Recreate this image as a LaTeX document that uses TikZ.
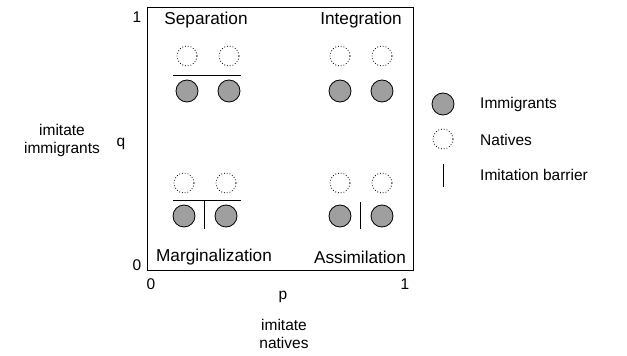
\documentclass[tikz,border=0pt]{standalone}
\usepackage{fontspec}
\setmainfont{Liberation Sans}
\begin{document}
\begin{tikzpicture}[x=1pt,y=-1pt,
  txt/.style={inner sep=0pt,font=\fontsize{15.5}{18}\selectfont},
  qtxt/.style={inner sep=0pt,font=\fontsize{17.2}{20}\selectfont},
  imm/.style={circle,draw=black,fill=gray!75,line width=0.8pt,minimum size=22pt,inner sep=0pt},
  nat/.style={circle,draw=black,dotted,line width=0.8pt,minimum size=20pt,inner sep=0pt},
  barrier/.style={line width=0.8pt}]
\useasboundingbox (0,0) rectangle (627,356);
\node[draw,line width=0.8pt,minimum width=266pt,minimum height=263pt,inner sep=0pt] (box) at (280,138.5) {};
% axis labels
\node[txt] (q1) at (137,17) {1};
\node[txt] (q0) at (137,265) {0};
\node[txt] (p0) at (151,284) {0};
\node[txt] (p1) at (405,284) {1};
\node[txt] (p) at (283,297) {p};
\node[txt,align=center] (pl) at (284,334) {imitate\\natives};
\node[txt] (q) at (121,144) {q};
\node[txt,align=center] (ql) at (62,140) {imitate\\immigrants};
% quadrant labels
\node[qtxt] (sep) at (206,20) {Separation};
\node[qtxt] (int) at (361,20) {Integration};
\node[qtxt] (mar) at (214,257) {Marginalization};
\node[qtxt] (ass) at (360,257) {Assimilation};
% separation
\node[nat] (sn1) at (187,56) {};
\node[nat] (sn2) at (229,56) {};
\node[imm] (si1) at (187,91) {};
\node[imm] (si2) at (229,91) {};
\coordinate (sl1) at (173,75); \coordinate (sl2) at (241,75);
\draw[barrier] (sl1) -- (sl2);
% integration
\node[nat] (in1) at (340,56) {};
\node[nat] (in2) at (382,56) {};
\node[imm] (ii1) at (340,91) {};
\node[imm] (ii2) at (382,91) {};
% marginalization
\node[nat] (mn1) at (184,183) {};
\node[nat] (mn2) at (226,183) {};
\node[imm] (mi1) at (184,216) {};
\node[imm] (mi2) at (226,216) {};
\coordinate (ml1) at (173,200); \coordinate (ml2) at (241,200);
\coordinate (mv1) at (204,200); \coordinate (mv2) at (204,229);
\draw[barrier] (ml1) -- (ml2);
\draw[barrier] (mv1) -- (mv2);
% assimilation
\node[nat] (an1) at (340,183) {};
\node[nat] (an2) at (382,183) {};
\node[imm] (ai1) at (340,216) {};
\node[imm] (ai2) at (382,216) {};
\coordinate (av1) at (360,202); \coordinate (av2) at (360,229);
\draw[barrier] (av1) -- (av2);
% legend
\node[imm] (li) at (443,104) {};
\node[nat] (ln) at (443,139) {};
\coordinate (lb1) at (443,164); \coordinate (lb2) at (443,187);
\draw[barrier] (lb1) -- (lb2);
\node[txt,anchor=west] (lti) at (480,104) {Immigrants};
\node[txt,anchor=west] (ltn) at (480,140) {Natives};
\node[txt,anchor=west] (ltb) at (480,175) {Imitation barrier};
\end{tikzpicture}
\end{document}
